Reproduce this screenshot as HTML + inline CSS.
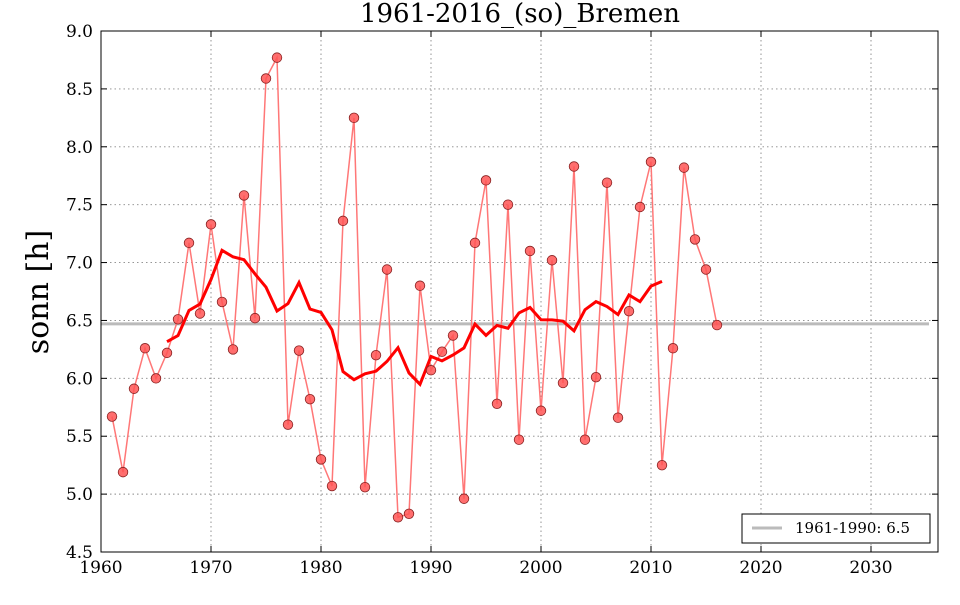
<!DOCTYPE html>
<html><head><meta charset="utf-8"><style>
body{margin:0;background:#fff;}
svg text{font-family:"DejaVu Serif","Liberation Serif",serif;}
</style></head><body>
<svg id="s" width="960" height="600" xmlns="http://www.w3.org/2000/svg"></svg>
<script>
const d=[5.67,5.19,5.91,6.26,6.00,6.22,6.51,7.17,6.56,7.33,6.66,6.25,7.58,6.52,8.59,8.77,5.60,6.24,5.82,5.30,5.07,7.36,8.25,5.06,6.20,6.94,4.80,4.83,6.80,6.07,6.23,6.37,4.96,7.17,7.71,5.78,7.50,5.47,7.10,5.72,7.02,5.96,7.83,5.47,6.01,7.69,5.66,6.58,7.48,7.87,5.25,6.26,7.82,7.20,6.94,6.46];
const X=y=>101+(y-1960)*11, Y=v=>31+(9-v)*115.78;
let h='';
for(let t=1960;t<=2030;t+=10){h+=`<line x1="${X(t)}" y1="31" x2="${X(t)}" y2="552" stroke="#888" stroke-dasharray="1.5,3" stroke-width="0.9"/>`;}
for(let v=4.5;v<=9.001;v+=0.5){h+=`<line x1="101" y1="${Y(v)}" x2="938" y2="${Y(v)}" stroke="#888" stroke-dasharray="1.5,3" stroke-width="0.9"/>`;}
h+=`<line x1="101" y1="${Y(6.47)}" x2="929" y2="${Y(6.47)}" stroke="#bbb" stroke-width="3"/>`;
let p=d.map((v,i)=>X(1961+i)+','+Y(v)).join(' ');
h+=`<polyline points="${p}" fill="none" stroke="#f77" stroke-width="1.5"/>`;
let m=[];for(let i=5;i<d.length-5;i++){let s=0;for(let k=-5;k<=5;k++)s+=d[i+k];m.push(X(1961+i)+','+Y(s/11));}
h+=`<polyline points="${m.join(' ')}" fill="none" stroke="#f00" stroke-width="3"/>`;
d.forEach((v,i)=>{h+=`<circle cx="${X(1961+i)}" cy="${Y(v)}" r="4.8" fill="#f55" fill-opacity="0.85" stroke="#822" stroke-width="0.8"/>`;});
h+=`<rect x="101" y="31" width="837" height="521" fill="none" stroke="#000" stroke-width="1"/>`;
for(let t=1960;t<=2030;t+=10){let x=X(t);h+=`<line x1="${x}" y1="552" x2="${x}" y2="546" stroke="#000"/><line x1="${x}" y1="31" x2="${x}" y2="37" stroke="#000"/><text x="${x}" y="573" font-size="17" text-anchor="middle">${t}</text>`;}
for(let v=4.5;v<=9.001;v+=0.5){let y=Y(v);h+=`<line x1="101" y1="${y}" x2="107" y2="${y}" stroke="#000"/><line x1="938" y1="${y}" x2="932" y2="${y}" stroke="#000"/><text x="93" y="${y+6}" font-size="17" text-anchor="end">${v.toFixed(1)}</text>`;}
h+=`<text x="520" y="22" font-size="26" text-anchor="middle">1961-2016_(so)_Bremen</text>`;
h+=`<text transform="translate(48,292) rotate(-90)" font-size="30" text-anchor="middle">sonn [h]</text>`;
h+=`<rect x="742" y="514" width="188" height="29" fill="#fff" stroke="#000"/><line x1="752" y1="528" x2="782" y2="528" stroke="#bbb" stroke-width="3"/><text x="795" y="533" font-size="15">1961-1990: 6.5</text>`;
document.getElementById('s').innerHTML=h;
</script>
</body></html>
